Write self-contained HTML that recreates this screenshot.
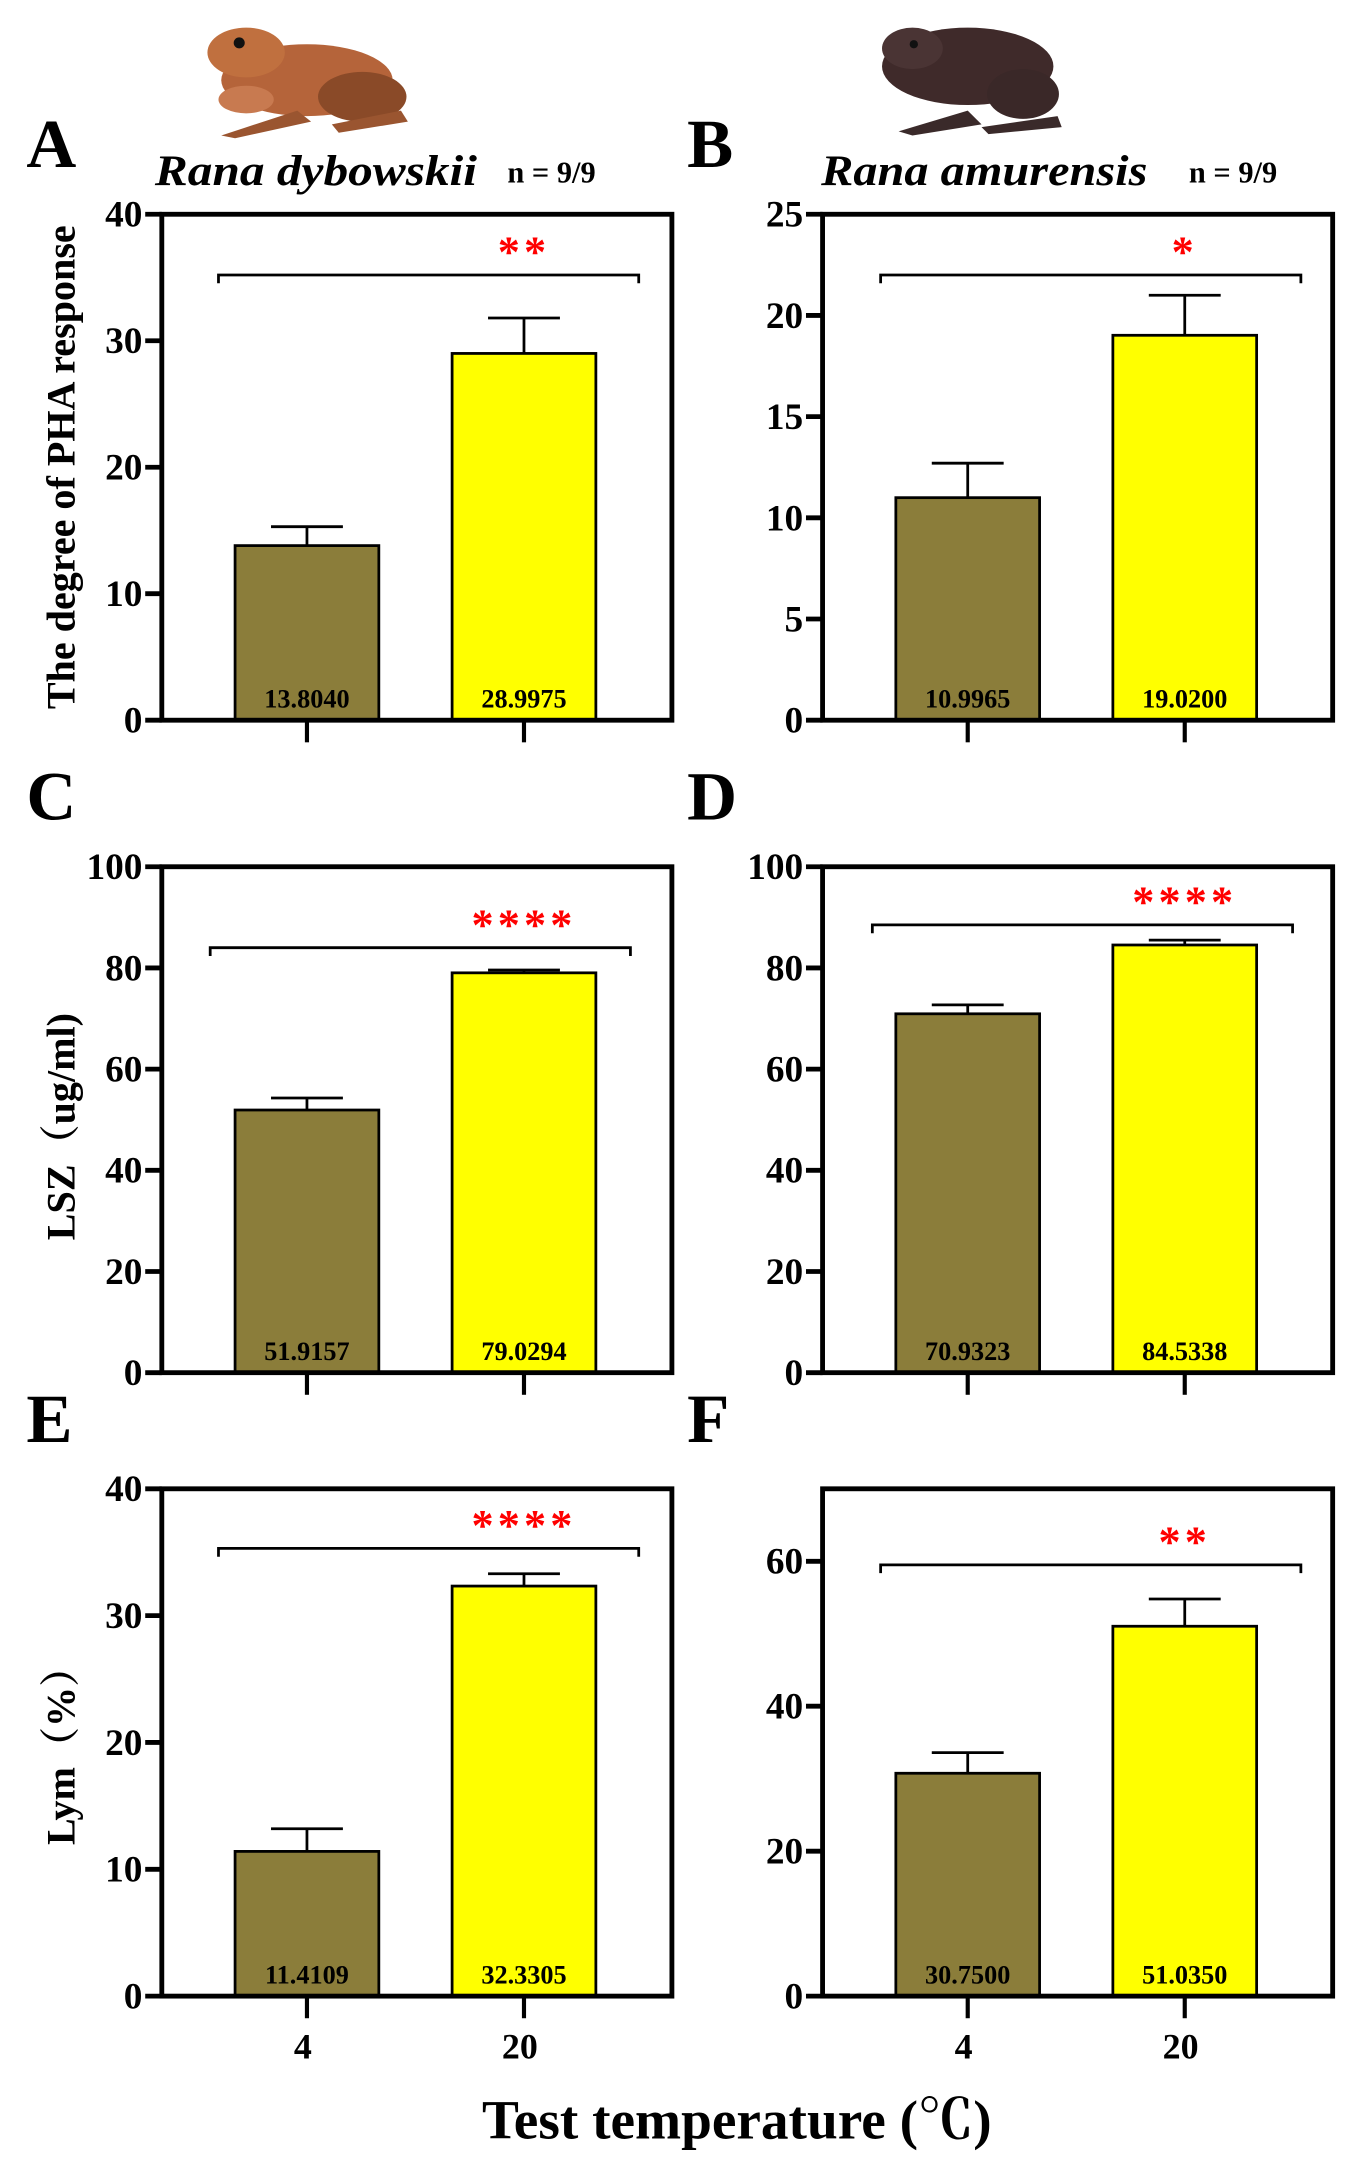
<!DOCTYPE html>
<html><head><meta charset="utf-8"><style>
html,body{margin:0;padding:0;background:#fff;}
svg{display:block;font-family:"Liberation Serif","Noto Serif CJK SC",serif;}
</style></head><body>
<svg id="fig" width="1359" height="2162" viewBox="0 0 983 1564" xmlns="http://www.w3.org/2000/svg">
  <g>
    <ellipse cx="222" cy="58" rx="62" ry="26" fill="#b5643a"/>
    <ellipse cx="178" cy="38" rx="28" ry="18" fill="#c0703f"/>
    <ellipse cx="262" cy="70" rx="32" ry="18" fill="#8a4a28"/>
    <ellipse cx="178" cy="72" rx="20" ry="10" fill="#c87a50"/>
    <path d="M160 98 L215 80 L225 88 L170 100Z" fill="#9a5530"/>
    <path d="M240 90 L290 80 L295 88 L245 96Z" fill="#9a5530"/>
    <circle cx="173" cy="31" r="4" fill="#111"/>
  </g>
  <g>
    <ellipse cx="700" cy="48" rx="62" ry="28" fill="#3f2a2a"/>
    <ellipse cx="660" cy="35" rx="22" ry="15" fill="#4a3434"/>
    <ellipse cx="740" cy="68" rx="26" ry="18" fill="#3a2828"/>
    <path d="M650 95 L700 80 L710 90 L660 98Z" fill="#3a2a2a"/>
    <path d="M710 92 L765 84 L768 92 L715 97Z" fill="#3a2a2a"/>
    <circle cx="661" cy="32" r="3" fill="#111"/>
  </g>
  <g id="panels"></g>
  <text x="533" y="1547" text-anchor="middle" font-size="40" font-weight="bold">Test temperature (℃)</text>
</svg>
<script>
const categories = ["4", "20"];
const panelLetters = ["A","B","C","D","E","F"];
const meansA = [13.8040, 28.9975], errA = [15.3, 31.8];
const meansB = [10.9965, 19.0200], errB = [12.7, 21.0];
const meansC = [51.9157, 79.0294], errC = [54.3, 79.6];
const meansD = [70.9323, 84.5338], errD = [72.7, 85.5];
const meansE = [11.4109, 32.3305], errE = [13.2, 33.3];
const meansF = [30.7500, 51.0350], errF = [33.6, 54.8];
const labelsA = ["13.8040","28.9975"], labelsB = ["10.9965","19.0200"], labelsC = ["51.9157","79.0294"];
const labelsD = ["70.9323","84.5338"], labelsE = ["11.4109","32.3305"], labelsF = ["30.7500","51.0350"];
const ticksA = [0,10,20,30,40], ticksB = [0,5,10,15,20,25], ticksC = [0,20,40,60,80,100];
const ticksD = [0,20,40,60,80,100], ticksE = [0,10,20,30,40], ticksF = [0,20,40,60];
const maxA = 40, maxB = 25, maxC = 100, maxD = 100, maxE = 40, maxF = 70;
const starsA = "**", starsB = "*", starsC = "****", starsD = "****", starsE = "****", starsF = "**";
const bracketA = 35.2, bracketB = 22.0, bracketC = 84, bracketD = 88.5, bracketE = 35.3, bracketF = 59.5;

const NS = "http://www.w3.org/2000/svg";
const root = document.getElementById("panels");
function mk(tag, attrs, parent, text){
  const e = document.createElementNS(NS, tag);
  for (const k in attrs) e.setAttribute(k, attrs[k]);
  if (text !== undefined) e.textContent = text;
  (parent||root).appendChild(e);
  return e;
}
const panels = [
  {id:"a",L:117,T:155,B:521,max:maxA,means:meansA,err:errA,labels:labelsA,ticks:ticksA,stars:starsA,br:bracketA,bx:[158,462]},
  {id:"b",L:595,T:155,B:521,max:maxB,means:meansB,err:errB,labels:labelsB,ticks:ticksB,stars:starsB,br:bracketB,bx:[637,941]},
  {id:"c",L:117,T:627,B:993,max:maxC,means:meansC,err:errC,labels:labelsC,ticks:ticksC,stars:starsC,br:bracketC,bx:[152,456]},
  {id:"d",L:595,T:627,B:993,max:maxD,means:meansD,err:errD,labels:labelsD,ticks:ticksD,stars:starsD,br:bracketD,bx:[631,935]},
  {id:"e",L:117,T:1077,B:1444,max:maxE,means:meansE,err:errE,labels:labelsE,ticks:ticksE,stars:starsE,br:bracketE,bx:[158,462]},
  {id:"f",L:595,T:1077,B:1444,max:maxF,means:meansF,err:errF,labels:labelsF,ticks:ticksF,stars:starsF,br:bracketF,bx:[637,941]}
];
const colors = ["#8b7d3a", "#ffff00"];
panels.forEach((p, pi) => {
  const g = mk("g", {});
  
  
  const W = 369;
  const y = v => p.B - v / p.max * (p.B - p.T);
  const xc = i => p.L + 105 + i * 157;
  p.means.forEach((m, i) => {
    const ex = xc(i);
    const eb = mk("line", {x1:ex, x2:ex, y1:y(p.err[i]), y2:y(m), stroke:"#000","stroke-width":2}, g);
    
    
    mk("line", {x1:ex-26, x2:ex+26, y1:y(p.err[i]), y2:y(p.err[i]), stroke:"#000","stroke-width":2}, g);
    const r = mk("rect", {x:ex-52, y:y(m), width:104, height:p.B - y(m), fill:colors[i], stroke:"#000","stroke-width":2}, g);
    
    
    const t = mk("text", {x:ex, y:p.B-9, "text-anchor":"middle","font-size":19,"font-weight":"bold"}, g, p.labels[i]);
    
    
    mk("line", {x1:ex, x2:ex, y1:p.B, y2:p.B+16, stroke:"#000","stroke-width":3}, g);
    if (pi >= 4) {
      const xl = mk("text", {x:ex-3, y:1489, "text-anchor":"middle","font-size":26,"font-weight":"bold"}, g, categories[i]);
      
      
    }
  });
  const fr = mk("rect", {x:p.L, y:p.T, width:W, height:p.B-p.T, fill:"none", stroke:"#000","stroke-width":3.5}, g);
  
  
  p.ticks.forEach(v => {
    mk("line", {x1:p.L-12, x2:p.L, y1:y(v), y2:y(v), stroke:"#000","stroke-width":3.5}, g);
    const t = mk("text", {x:p.L-14, y:y(v)+9, "text-anchor":"end","font-size":27,"font-weight":"bold"}, g, String(v));
    
    
  });
  const by = y(p.br);
  const bp = mk("path", {d:`M${p.bx[0]} ${by+6} V${by} H${p.bx[1]} V${by+6}`, fill:"none", stroke:"#000","stroke-width":2}, g);
  
  
  const st = mk("text", {x:xc(1), y:by-6, "text-anchor":"middle","font-size":32,"font-weight":"bold",fill:"#ff0000","letter-spacing":"3"}, g, p.stars);
  
  
  const lt = mk("text", {x:p.L-98, y:p.T-34, "font-size":50,"font-weight":"bold"}, g, panelLetters[pi]);
  
  
});
const extra = [
  ["species-title-dybowskii", 112, 134, 31, "Rana dybowskii", "italic", 233],
  ["sample-size-a", 367, 132, 22, "n = 9/9", "normal", 0],
  ["species-title-amurensis", 594, 134, 31, "Rana amurensis", "italic", 236],
  ["sample-size-b", 860, 132, 22, "n = 9/9", "normal", 0]
];
extra.forEach(e => {
  const a = {x:e[1], y:e[2], "font-size":e[3], "font-weight":"bold", "font-style":e[5]};
  if (e[6]) { a.textLength = e[6]; a.lengthAdjust = "spacingAndGlyphs"; }
  const t = mk("text", a, root, e[4]);
  
  
});
const ytitles = [
  ["y-axis-title-pha", 338, "The degree of PHA response"],
  ["y-axis-title-lsz", 815, "LSZ（ug/ml)"],
  ["y-axis-title-lym", 1263, "Lym（%）"]
];
ytitles.forEach(e => {
  const t = mk("text", {x:0, y:0, transform:`translate(54 ${e[1]}) rotate(-90)`, "text-anchor":"middle","font-size":29,"font-weight":"bold"}, root, e[2]);
  
  
});
</script>
</body></html>
